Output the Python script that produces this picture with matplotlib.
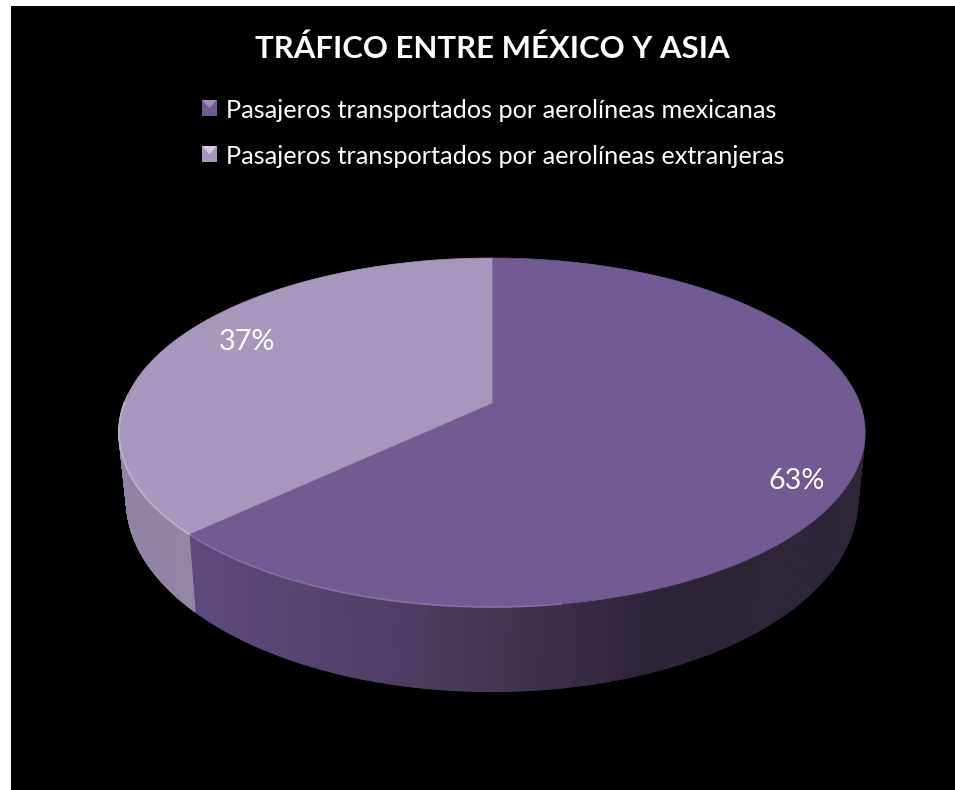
"""Tráfico entre México y Asia: 3D-look pie drawn by hand with perspective."""
import numpy as np
import matplotlib
matplotlib.use("Agg")
import matplotlib.pyplot as plt
from matplotlib.collections import PolyCollection
from matplotlib.colors import LinearSegmentedColormap
from matplotlib.patches import Polygon, Rectangle

TITLE = "TRÁFICO ENTRE MÉXICO Y ASIA"
labels = ["Pasajeros transportados por aerolíneas mexicanas",
          "Pasajeros transportados por aerolíneas extranjeras"]
values = [63, 37]
pct_labels = ["63%", "37%"]
colors = ["#725a92", "#a897bd"]
bevels = ["#a08dbb", "#d6cde2"]

W, H = 955, 790
plt.rcParams["font.family"] = ["Lato", "DejaVu Sans"]

# perspective of the pie disc, in pixels
APEX = (492, 403)
DX, DY, P = 367.6, 169.5, 0.169


def project(theta, scale_x=1.0, scale_y=1.0, y0=APEX[1]):
    """theta is clockwise from 12 o'clock."""
    u, v = np.sin(theta), np.cos(theta)
    w = 1 + P * v
    return APEX[0] + scale_x * DX * u / w, y0 - scale_y * DY * v / w


fig = plt.figure(figsize=(W / 100, H / 100), dpi=100, facecolor="white")
ax = fig.add_axes([0, 0, 1, 1])
ax.set_xlim(0, W)
ax.set_ylim(H, 0)
ax.axis("off")
ax.add_patch(Rectangle((11, 6), W - 11, H - 6, color="black", lw=0))

edges = np.cumsum([0] + values) / sum(values) * 2 * np.pi

# outer wall, front half only; gradient runs left to right across each wall
wall_cmaps = [
    LinearSegmentedColormap.from_list("dark", [(0, "#5f4a7e"), (0.24, "#52426b"), (0.46, "#433554"),
                                               (0.68, "#2e2438"), (1, "#2e2539")]),
    LinearSegmentedColormap.from_list("light", ["#9183a4", "#9485a6"]),
]
for i, (a, b) in enumerate(zip(edges[:-1], edges[1:])):
    lo, hi = max(a, np.pi / 2 - 0.05), min(b, 3 * np.pi / 2 + 0.05)
    th = np.linspace(lo, hi, 260)
    xt, yt = project(th)
    xb, yb = project(th, 0.98, 1.096, 468)
    quads = [[(xt[j], yt[j]), (xt[j + 1], yt[j + 1]), (xb[j + 1], yb[j + 1]), (xb[j], yb[j])]
             for j in range(len(th) - 1)]
    shade = (xt[:-1] - xt[:-1].min()) / np.ptp(xt[:-1])
    ax.add_collection(PolyCollection(quads, facecolors=wall_cmaps[i](shade), edgecolors="face", linewidths=0.8))

# top of the disc
for a, b, c in zip(edges[:-1], edges[1:], colors):
    th = np.linspace(a, b, 300)
    x, y = project(th)
    ax.add_patch(Polygon(np.r_[[APEX], np.c_[x, y]], closed=True, facecolor=c, edgecolor=c, lw=0.5))

# soft rim light along the front edge
th = np.linspace(np.pi * 0.95, edges[1], 120)
ax.plot(*project(th), color="#8570a6", lw=1.2)
th = np.linspace(edges[1], 3 * np.pi / 2, 60)
ax.plot(*project(th), color="#bdb0ce", lw=1.3)

ax.text(492, 49, TITLE, color="white", fontsize=22.4, fontweight="bold", ha="center", va="center")
for lab, c, bev, y in zip(labels, colors, bevels, [108, 154]):
    ax.add_patch(Rectangle((202, y - 8), 15, 16, facecolor=c, edgecolor="none"))
    ax.add_patch(Polygon([(202, y - 8), (217, y - 8), (209.5, y)], facecolor=bev, edgecolor="none"))
    ax.text(226, y + 3, lab, color="white", fontsize=18.2, ha="left", va="center")

ax.text(797, 481, pct_labels[0], color="white", fontsize=20.7, ha="center", va="center")
ax.text(247, 342, pct_labels[1], color="white", fontsize=20.7, ha="center", va="center")

fig.savefig("out.png", dpi=100, facecolor="white")
